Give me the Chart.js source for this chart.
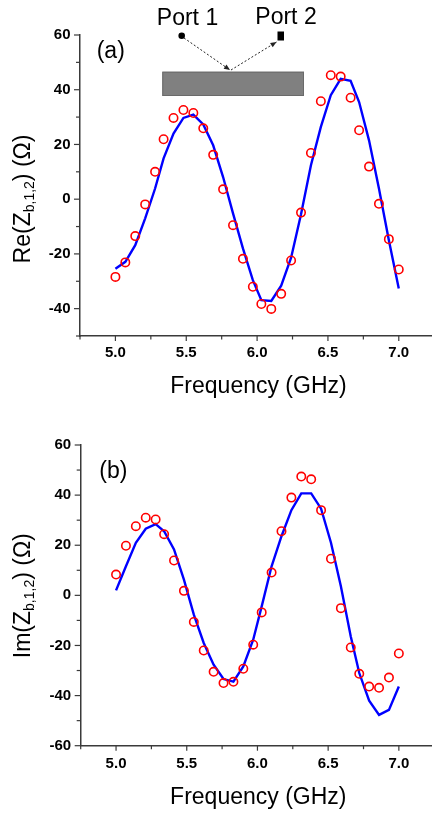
<!DOCTYPE html>
<html><head><meta charset="utf-8">
<script src="https://cdn.jsdelivr.net/npm/chart.js@4.4.1/dist/chart.umd.min.js"></script>
<style>
html,body{margin:0;padding:0;background:#fff;overflow:hidden;width:432px;height:814px;position:relative;}
.wrap{position:absolute;left:0;width:440px;}
#w1{top:0;height:410px;} #w2{top:410px;height:404px;}
canvas{display:block;}
</style></head><body>
<div class="wrap" id="w1"><canvas id="c1" width="440" height="410"></canvas></div>
<div class="wrap" id="w2"><canvas id="c2" width="440" height="404"></canvas></div>
<script>
// ---- data ----
const FREQ = [5.00,5.07,5.14,5.21,5.28,5.34,5.41,5.48,5.55,5.62,5.69,5.76,5.83,5.90,5.97,6.03,6.10,6.17,6.24,6.31,6.38,6.45,6.52,6.59,6.66,6.72,6.79,6.86,6.93,7.00];
const RE_MEAS = [-28.4,-23.1,-13.5,-1.9,10.0,21.9,29.7,32.6,31.5,25.9,16.2,3.6,-9.5,-21.8,-32.0,-38.3,-40.1,-34.6,-22.4,-4.9,16.9,35.8,45.3,44.8,37.1,25.2,11.9,-1.7,-14.6,-25.7];
const RE_SIM = [-25.4,-22.9,-16.8,-7.0,3.9,14.9,24.0,29.7,30.9,27.3,19.7,8.1,-5.2,-18.0,-29.6,-36.9,-37.2,-31.6,-21.4,-5.5,12.4,26.4,38.0,44.0,43.3,35.5,21.5,3.9,-15.0,-32.6];
const IM_MEAS = [8.3,19.8,27.6,31.0,30.3,24.4,13.9,1.8,-10.6,-22.0,-30.5,-35.0,-34.5,-29.3,-19.7,-6.8,9.1,25.6,39.0,47.4,46.3,34.0,14.6,-5.1,-20.8,-31.3,-36.4,-36.9,-32.8,-23.2];
const IM_SIM = [2.0,11.6,21.0,26.6,28.4,25.6,18.3,6.3,-7.7,-19.0,-27.7,-33.4,-34.4,-28.4,-17.7,-4.4,11.6,23.6,34.0,40.7,40.7,34.6,21.0,3.6,-16.4,-31.0,-42.0,-47.7,-45.7,-36.4];
const X_TICKS = [5.0,5.5,6.0,6.5,7.0];
const RE_Y_TICKS = [-40,-20,0,20,40,60];
const IM_Y_TICKS = [-60,-40,-20,0,20,40,60];
const X_TITLE = 'Frequency (GHz)';
const RE_TITLE = ['Re(Z', 'b,1,2', ') (\u03A9)'];
const IM_TITLE = ['Im(Z', 'b,1,2', ') (\u03A9)'];

const FONT = '"Liberation Sans", Arial, sans-serif';
const AXIS = '#3a3a3a';

function pts(xs, ys){ return xs.map((x,i)=>({x:x, y:ys[i]})); }

function decor(o){
  return {
    id:'decor',
    afterDraw(chart){
      const ctx = chart.ctx, a = chart.chartArea, xs = chart.scales.x, ys = chart.scales.y;
      ctx.save();
      ctx.strokeStyle = AXIS; ctx.lineWidth = 1.2;
      const seg=(x1,y1,x2,y2)=>{ctx.beginPath();ctx.moveTo(x1,y1);ctx.lineTo(x2,y2);ctx.stroke();};
      // x ticks
      const xv = xs.ticks.map(t=>t.value), xst = xv[1]-xv[0];
      xv.forEach(v=>{const p=xs.getPixelForValue(v); seg(p,a.bottom,p,a.bottom+5);});
      for(let v=xv[0]-xst/2; v<=xs.max+1e-9; v+=xst){ if(v>=xs.min-1e-9){const p=xs.getPixelForValue(v); seg(p,a.bottom,p,a.bottom+3.5);} }
      // y ticks
      const yv = ys.ticks.map(t=>t.value), yst = yv[1]-yv[0];
      yv.forEach(v=>{const p=ys.getPixelForValue(v); seg(a.left-6,p,a.left,p);});
      for(let v=yv[0]-yst/2; v<=ys.max+1e-9; v+=yst){ if(v>=ys.min-1e-9){const p=ys.getPixelForValue(v); seg(a.left-4,p,a.left,p);} }
      // x title
      ctx.fillStyle = '#000';
      ctx.font = '23px ' + FONT; ctx.textAlign='center'; ctx.textBaseline='alphabetic';
      ctx.fillText(X_TITLE, o.xtX, o.xtY);
      // y title with subscript
      ctx.save();
      ctx.translate(o.ytX, o.ytY); ctx.rotate(-Math.PI/2);
      const big = '23px ' + FONT, small = '14px ' + FONT;
      ctx.font = big; const w1 = ctx.measureText(o.yt[0]).width, w3 = ctx.measureText(o.yt[2]).width;
      ctx.font = small; const w2 = ctx.measureText(o.yt[1]).width;
      let sx = -(w1+w2+w3)/2;
      ctx.textAlign='left';
      ctx.font = big; ctx.fillText(o.yt[0], sx, 0); sx += w1;
      ctx.font = small; ctx.fillText(o.yt[1], sx, 4); sx += w2;
      ctx.font = big; ctx.fillText(o.yt[2], sx, 0);
      ctx.restore();
      // panel label
      ctx.font = '23px ' + FONT; ctx.textAlign='left';
      ctx.fillText(o.label, o.labX, o.labY);
      if (o.inset) drawInset(ctx);
      ctx.restore();
    }
  };
}

function arrow(ctx, x1,y1,x2,y2){
  ctx.save();
  ctx.strokeStyle='#222'; ctx.lineWidth=1; ctx.setLineDash([2,2]);
  ctx.beginPath(); ctx.moveTo(x1,y1); ctx.lineTo(x2,y2); ctx.stroke();
  ctx.setLineDash([]);
  const ang = Math.atan2(y2-y1,x2-x1), L=6, W=2.5;
  ctx.fillStyle='#222';
  ctx.beginPath(); ctx.moveTo(x2,y2);
  ctx.lineTo(x2-L*Math.cos(ang)+W*Math.sin(ang), y2-L*Math.sin(ang)-W*Math.cos(ang));
  ctx.lineTo(x2-L*Math.cos(ang)-W*Math.sin(ang), y2-L*Math.sin(ang)+W*Math.cos(ang));
  ctx.closePath(); ctx.fill();
  ctx.restore();
}

function drawInset(ctx){
  ctx.save();
  ctx.fillStyle='#000'; ctx.font='23px '+FONT; ctx.textAlign='center'; ctx.textBaseline='alphabetic';
  ctx.fillText('Port 1', 187.5, 25);
  ctx.fillText('Port 2', 286, 23.5);
  ctx.beginPath(); ctx.arc(181.7, 35.7, 3.3, 0, Math.PI*2); ctx.fill();
  ctx.fillRect(277.5, 31.5, 6.5, 9);
  ctx.fillStyle='#808080'; ctx.fillRect(162.3, 71.7, 141.7, 24.3);
  ctx.strokeStyle='#6a6a6a'; ctx.lineWidth=1; ctx.strokeRect(162.8, 72.2, 140.7, 23.3);
  arrow(ctx, 184, 38, 230, 70);
  arrow(ctx, 231, 70, 276.5, 42);
  ctx.restore();
}

function makeChart(id, meas, sim, yTicks, ymin, ymax, left, right, canvasH, bottomY, xPad, deco){
  const tickFont = {family: FONT, size: 15, weight: 'bold'};
  return new Chart(document.getElementById(id), {
    type: 'scatter',
    data: { datasets: [
      { data: pts(FREQ, sim), showLine: true, borderColor: '#0000ff', borderWidth: 2.4, pointRadius: 0, fill:false, tension:0, order: 2 },
      { data: pts(FREQ, meas), showLine: false, pointStyle: 'circle', pointRadius: 4.2, borderColor: '#ff0000', borderWidth: 1.6, backgroundColor: 'rgba(0,0,0,0)', order: 1 }
    ]},
    options: {
      responsive: false, animation: false, devicePixelRatio: 1,
      layout: { padding: { left: 0, top: 35, right: 440 - right, bottom: 0 } },
      plugins: { legend: {display:false}, tooltip: {enabled:false} },
      scales: {
        x: { type:'linear', min: 4.75, max: 7.25,
             afterBuildTicks: s => { s.ticks = X_TICKS.map(v=>({value:v})); },
             afterFit: s => { s.height = canvasH - bottomY; },
             grid: {display:false, drawTicks:false},
             border: {display:true, color: AXIS, width: 1.5},
             ticks: {font: tickFont, color:'#000', padding: xPad, maxRotation:0, autoSkip:false, callback: v => Number(v).toFixed(1)} },
        y: { type:'linear', min: ymin, max: ymax,
             afterBuildTicks: s => { s.ticks = yTicks.map(v=>({value:v})); },
             afterFit: s => { s.width = left; },
             grid: {display:false, drawTicks:false},
             border: {display:true, color: AXIS, width: 1.5},
             ticks: {font: tickFont, color:'#000', padding: 9.5, autoSkip:false, callback: v => String(v)} }
      }
    },
    plugins: [deco]
  });
}

makeChart('c1', RE_MEAS, RE_SIM, RE_Y_TICKS, -50, 60, 80, 435.75, 410, 336, 8,
  decor({xtX: 258.5, xtY: 392.7, ytX: 30, ytY: 199, yt: RE_TITLE, label: '(a)', labX: 96.7, labY: 58.3, inset: true}));
makeChart('c2', IM_MEAS, IM_SIM, IM_Y_TICKS, -60, 60, 80.7, 436.45, 404, 335.7, 9,
  decor({xtX: 258.3, xtY: 394, ytX: 30, ytY: 185.7, yt: IM_TITLE, label: '(b)', labX: 99.3, labY: 68.3, inset: false}));
</script>
</body></html>
